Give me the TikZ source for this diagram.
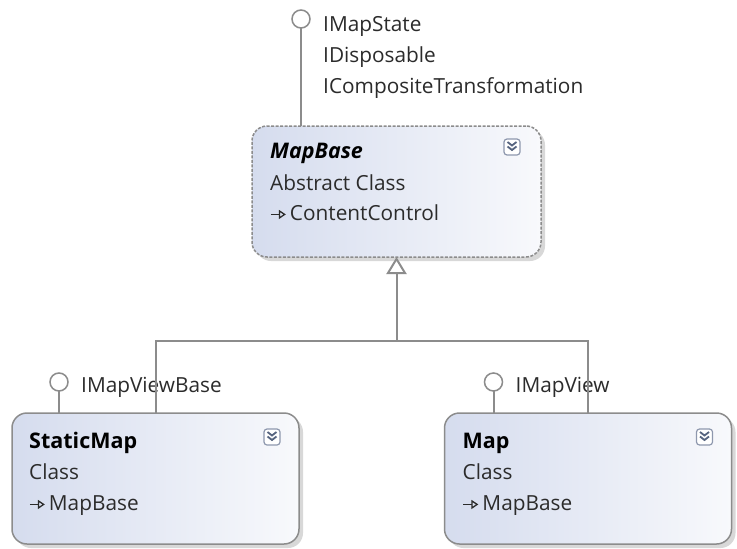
\documentclass[tikz,border=0pt]{standalone}
\usepackage{fontspec}
\setmainfont{Open Sans}
\usetikzlibrary{arrows.meta,positioning,shadows}

\definecolor{linegray}{HTML}{8C8C8C}
\definecolor{boxleft}{HTML}{D5DCEE}
\definecolor{boxright}{HTML}{F8F9FC}
\definecolor{inkgray}{HTML}{2B2B2B}
\definecolor{iconedge}{HTML}{8E98AE}
\definecolor{iconink}{HTML}{56647F}

\newcommand{\baseref}{\tikz[baseline=-0.5ex,x=1pt,y=1pt]\draw[line width=1.3pt,inkgray,-{Triangle[open,length=7pt 0,width=9pt 0]}] (0,0)--(15,0);\,}

\tikzset{
	classbox/.style={rectangle, rounded corners=15pt, minimum width=287pt, minimum height=131pt, outer sep=0pt,
		left color=boxleft, right color=boxright, draw=linegray, line width=1.5pt,
		drop shadow={shadow xshift=4pt, shadow yshift=-4pt, fill=black!30, opacity=0.5}},
	abstractbox/.style={classbox, dash pattern=on 3pt off 1.5pt},
	lolli/.style={circle, draw=linegray, line width=1.5pt, fill=white, minimum size=18pt, inner sep=0pt, outer sep=0pt},
	link/.style={draw=linegray, line width=2pt},
	txt/.style={anchor=base west, inner sep=0pt, text=inkgray, font=\fontsize{20.8}{24}\selectfont},
	title/.style={txt, text=black, font=\fontsize{21.5}{25}\selectfont\bfseries},
	expander/.pic={
		\draw[draw=iconedge, fill=white, rounded corners=3pt, line width=1.2pt] (-8,-8) rectangle (8,8);
		\draw[draw=iconink, line width=1.8pt] (-4.5,-5)--(0,-1.5)--(4.5,-5) (-4.5,-0.5)--(0,3)--(4.5,-0.5);
	}
}

\begin{document}
\begin{tikzpicture}[x=1pt,y=-1pt]
	\useasboundingbox[fill=white] (0,0) rectangle (737,549);

	\node[abstractbox, minimum width=289pt] (mapbase) at (396.5,191.5) {};
	\node[classbox] (staticmap) at (155.5,478.5) {};
	\node[classbox] (map) at (588,478.5) {};

	\pic at ([shift={(-29,21)}]mapbase.north east) {expander};
	\pic at ([shift={(-27,24)}]staticmap.north east) {expander};
	\pic at ([shift={(-27,24)}]map.north east) {expander};

	\node[title, font=\fontsize{21.5}{25}\selectfont\bfseries\itshape] (mbname) at ([shift={(18,32)}]mapbase.north west) {MapBase};
	\node[txt] (mbkind) at ([shift={(18,64)}]mapbase.north west) {Abstract Class};
	\node[txt] (mbbase) at ([shift={(18,94)}]mapbase.north west) {\baseref ContentControl};

	\node[title] (smname) at ([shift={(17,35)}]staticmap.north west) {StaticMap};
	\node[txt] (smkind) at ([shift={(17,66)}]staticmap.north west) {Class};
	\node[txt] (smbase) at ([shift={(17,97)}]staticmap.north west) {\baseref MapBase};

	\node[title] (mpname) at ([shift={(18,35)}]map.north west) {Map};
	\node[txt] (mpkind) at ([shift={(18,66)}]map.north west) {Class};
	\node[txt] (mpbase) at ([shift={(18,97)}]map.north west) {\baseref MapBase};

	\node[lolli] (ims) at (301,19) {};
	\node[txt] (imstate) at (323,31) {IMapState};
	\node[txt] (idisp) at (323,62) {IDisposable};
	\node[txt] (icomp) at (323,93) {ICompositeTransformation};
	\draw[link] (ims) -- (ims |- mapbase.north);

	\node[lolli] (imvb) at ([shift={(47,-31)}]staticmap.north west) {};
	\node[txt] (imvbname) at ([shift={(22,10)}]imvb.center) {IMapViewBase};
	\draw[link] (imvb) -- (imvb |- staticmap.north);

	\node[lolli] (imv) at ([shift={(49,-31)}]map.north west) {};
	\node[txt] (imvname) at ([shift={(22,10)}]imv.center) {IMapView};
	\draw[link] (imv) -- (imv |- map.north);

	\coordinate (hub) at (mapbase.south |- 0,341);
	\draw[link] (staticmap.north) |- (hub) -| (map.north);
	\draw[link, -{Triangle[fill=white, length=17pt 0, width=20pt 0]}] (hub) -- (mapbase.south);
\end{tikzpicture}
\end{document}
